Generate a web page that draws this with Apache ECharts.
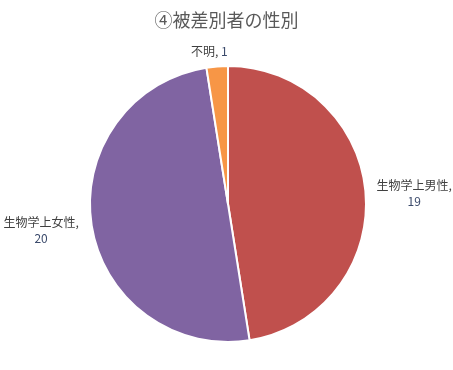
<!DOCTYPE html>
<html>
<head>
<meta charset="utf-8">
<script src="https://cdn.jsdelivr.net/npm/echarts@6/dist/echarts.min.js"></script>
<style>
  html, body { margin: 0; padding: 0; background: #fff; }
  #chart { width: 453px; height: 370px; }
</style>
</head>
<body>
<div id="chart"></div>
<script>
// Sex of those discriminated against
const categories = ['生物学上男性', '生物学上女性', '不明'];
const counts = [19, 20, 1];
const sliceColors = ['#C0504D', '#8064A2', '#F79646'];

const FONT = '"Noto Sans CJK JP", "Noto Sans", sans-serif';

// small nudges of the outside labels, [dx, dy] per slice
const labelNudge = [[0, 1], [-2, 4], [16, -9]];

const chart = echarts.init(document.getElementById('chart'), null, { renderer: 'canvas' });

const pieData = categories.map((name, i) => ({
  name: name,
  value: counts[i],
  itemStyle: { color: sliceColors[i] },
  label: i === 2 ? { formatter: '{n|{b},} {v|{c}}' } : { formatter: '{n|{b},}\n{v|{c}}' }
}));

chart.setOption({
  animation: false,
  title: {
    text: '④被差別者の性別',
    left: 'center',
    top: 6,
    textStyle: { fontFamily: FONT, fontSize: 18, fontWeight: 'normal', color: '#595959' }
  },
  series: [{
    type: 'pie',
    center: [228, 204],
    radius: [0, 138],
    startAngle: 90,
    clockwise: true,
    data: pieData,
    itemStyle: { borderColor: '#ffffff', borderWidth: 2 },
    label: {
      show: true,
      position: 'outside',
      overflow: 'none',
      edgeDistance: 0,
      fontFamily: FONT,
      fontSize: 12,
      lineHeight: 16,
      rich: {
        n: { fontFamily: FONT, fontSize: 12, color: '#404040', lineHeight: 16 },
        v: { fontFamily: FONT, fontSize: 12, color: '#3b4a6b', lineHeight: 16 }
      }
    },
    labelLine: { show: false, length: 6, length2: 0 },
    labelLayout: function (params) {
      const r = params.labelRect;
      const n = labelNudge[params.dataIndex] || [0, 0];
      return {
        x: r.x + r.width / 2 + n[0],
        y: r.y + r.height / 2 + n[1],
        align: 'center',
        verticalAlign: 'middle'
      };
    }
  }]
});
</script>
</body>
</html>
